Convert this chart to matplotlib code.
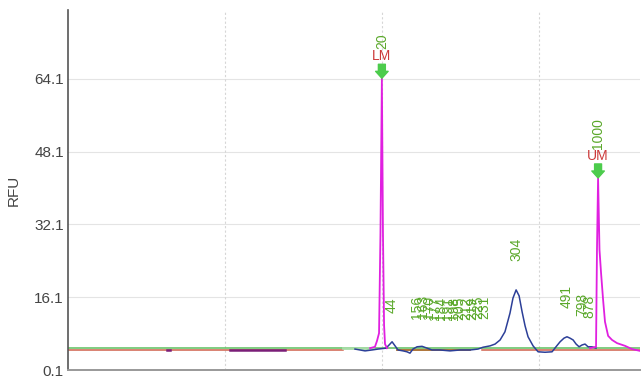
import matplotlib
matplotlib.use("Agg")
import matplotlib.pyplot as plt

# ---- data -----------------------------------------------------------------
# Sample trace (blue), read in run-time units vs RFU
blue_x = [182.8, 189.2, 193.6, 197.5, 202.5, 204.5, 206.4, 208.3, 210.2, 213.4,
          215.9, 217.8, 219.7, 222.3, 225.5, 228.7, 231.8, 236.9, 243.3, 249.7,
          256.1, 261.1, 264.3, 268.8, 272.0, 275.2, 278.3, 281.5, 283.4, 285.4,
          287.3, 289.2, 291.1, 293.0, 296.2, 299.4, 303.8, 308.3, 310.8, 313.4,
          315.9, 317.8, 319.7, 321.7, 323.6, 325.5, 327.4, 329.3, 331.2, 333.8,
          336.3]
blue_y = [4.7, 4.3, 4.5, 4.7, 4.9, 5.6, 6.3, 5.4, 4.5, 4.3,
          4.1, 3.8, 4.7, 5.2, 5.3, 4.9, 4.5, 4.5, 4.3, 4.5,
          4.5, 4.7, 5.1, 5.4, 5.8, 6.7, 8.5, 12.6, 15.9, 17.7,
          16.4, 12.9, 9.8, 7.4, 5.4, 4.1, 4.0, 4.1, 5.2, 6.3,
          7.1, 7.4, 7.1, 6.7, 5.8, 5.2, 5.6, 5.8, 5.2, 5.2,
          4.9]

# Lower marker trace (magenta)
lm_x = [192.4, 195.5, 196.8, 198.1, 199.0, 199.9, 200.6, 201.3, 201.9, 203.2]
lm_y = [4.9, 5.2, 6.5, 8.2, 30.0, 64.2, 30.0, 10.0, 5.8, 4.9]

# Upper marker trace (magenta)
um_x = [332.5, 336.3, 336.9, 337.6, 338.5, 339.5, 340.8, 342.0, 344.0, 346.5,
        349.7, 354.8, 359.2, 364.3]
um_y = [4.9, 5.2, 26.5, 42.3, 26.5, 21.4, 15.5, 10.7, 7.6, 6.7,
        6.0, 5.4, 4.7, 4.3]

# Baseline levels
green_base = 4.9
red_base = 4.4
red_spans = [(0.0, 175.2), (263.7, 364.3)]
brown_span = (209.6, 256.1)
lightgreen_span = (175.2, 194.3)
purple_spans = [(63.1, 65.0), (103.2, 138.2)]

# Fragment size calls (bp) with their positions and heights
size_labels = ["44", "156", "163", "170", "177", "184", "191", "198", "205",
               "212", "219", "225", "231", "304", "491", "798", "878"]
size_x = [206.4, 222.3, 226.2, 230.1, 234.0, 237.8, 241.7, 245.6, 249.5,
          253.4, 257.3, 261.1, 265.0, 285.4, 317.8, 327.4, 331.8]
size_y = [6.3, 5.0, 5.1, 4.9, 4.8, 4.8, 4.7, 4.7, 4.8,
          4.8, 4.8, 4.9, 5.0, 17.7, 7.4, 5.6, 5.2]

# Alignment markers
marker_names = ["LM", "UM"]
marker_sizes = ["20", "1000"]
marker_x = [199.9, 337.6]
marker_y = [64.2, 42.3]

y_ticks = [0.1, 16.1, 32.1, 48.1, 64.1]
x_grid = [100, 200, 300]

# ---- colours --------------------------------------------------------------
C_BLUE = "#2c3f98"
C_MAG = "#e020e0"
C_GREEN_LINE = "#5cbf5c"
C_RED_LINE = "#d0604c"
C_BROWN = "#a86a2a"
C_LIGHTGREEN = "#a6dca6"
C_PURPLE = "#7a1e78"
C_LABEL = "#5aa82a"
C_MARKER = "#cc3a3a"
C_ARROW = "#4ccc4c"

# ---- figure ---------------------------------------------------------------
fig = plt.figure(figsize=(6.44, 3.77), dpi=100)
ax = fig.add_axes([68 / 644, 7 / 377, 572 / 644, 360 / 377])
ax.set_xlim(0, 364.3)
ax.set_ylim(0.1, 79.2)

# grid
for yt in y_ticks[1:]:
    ax.axhline(yt, color="#e4e4e4", lw=0.8, zorder=0)
for xg in x_grid:
    ax.axvline(xg, color="#d6d6d6", lw=0.8, ls=(0, (2, 2)), zorder=0)

# baselines
ax.plot([0, 364.3], [green_base, green_base], color=C_GREEN_LINE, lw=1.1, zorder=2)
for a, b in red_spans:
    ax.plot([a, b], [red_base, red_base], color=C_RED_LINE, lw=1.1, zorder=2)
ax.plot(brown_span, [red_base, red_base], color=C_BROWN, lw=1.3, zorder=2)
ax.plot(lightgreen_span, [green_base, green_base], color=C_LIGHTGREEN, lw=2.0, zorder=2)
for a, b in purple_spans:
    ax.plot([a, b], [red_base, red_base], color=C_PURPLE, lw=1.8, zorder=2)

# traces
ax.plot(blue_x, blue_y, color=C_BLUE, lw=1.1, zorder=3)
ax.plot(lm_x, lm_y, color=C_MAG, lw=1.3, zorder=4)
ax.plot(um_x, um_y, color=C_MAG, lw=1.3, zorder=4)

# fragment size labels
for lab, x, y in zip(size_labels, size_x, size_y):
    ax.annotate(lab, xy=(x, y), xytext=(0, 29), textcoords="offset pixels",
                rotation=90, ha="center", va="bottom", color=C_LABEL,
                fontsize=10, family="Liberation Sans", zorder=5)

# alignment markers: arrow, marker name, size
for name, size, x, y in zip(marker_names, marker_sizes, marker_x, marker_y):
    ax.annotate("", xy=(x, y), xytext=(0, 14), textcoords="offset pixels",
                arrowprops=dict(arrowstyle="simple,head_width=0.9,head_length=0.5,tail_width=0.5",
                                color=C_ARROW, shrinkA=0, shrinkB=0), zorder=6)
    ax.annotate(name, xy=(x, y), xytext=(0, 15), textcoords="offset pixels",
                ha="center", va="bottom", color=C_MARKER, fontsize=10,
                family="Liberation Sans", zorder=6)
    ax.annotate(size, xy=(x, y), xytext=(0, 29), textcoords="offset pixels",
                rotation=90, ha="center", va="bottom", color=C_LABEL,
                fontsize=10, family="Liberation Sans", zorder=6)

# axes styling
ax.set_yticks(y_ticks)
ax.set_yticklabels([f"{v:.1f}" for v in y_ticks], family="Liberation Sans",
                   fontsize=11, color="#444444")
ax.set_xticks([])
ax.tick_params(axis="y", length=0, pad=3)
ax.set_ylabel("RFU", family="Liberation Sans", fontsize=11, color="#444444", labelpad=10)
for side in ("top", "right"):
    ax.spines[side].set_visible(False)
ax.spines["left"].set_color("#555555")
ax.spines["left"].set_linewidth(1.2)
ax.spines["bottom"].set_color("#999999")
ax.spines["bottom"].set_linewidth(1.4)

fig.savefig("out.png", dpi=100)
